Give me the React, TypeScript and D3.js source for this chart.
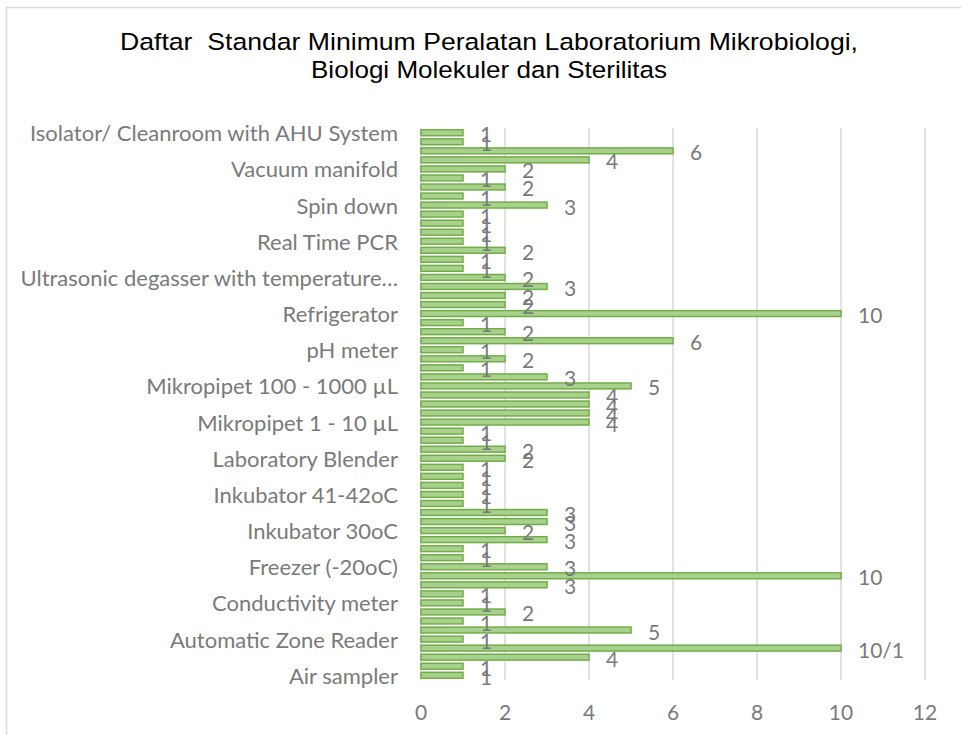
import React from "react";
import * as d3 from "d3";

// categories listed bottom-first, as in the spreadsheet
const categories = [
  "Air sampler",
  "Anaerobic jar",
  "Analytical balance",
  "Autoclave",
  "Automatic Zone Reader",
  "Biosafety Cabinet",
  "Centrifuge",
  "Colony counter",
  "Conductivity meter",
  "Deep freezer",
  "Dispenser",
  "Drying oven",
  "Freezer (-20oC)",
  "Gel documentation",
  "Hot plate stirrer",
  "Inkubator 20-25oC",
  "Inkubator 30oC",
  "Inkubator 35oC",
  "Inkubator 37oC",
  "Inkubator 40oC",
  "Inkubator 41-42oC",
  "Inkubator 44oC",
  "Inkubator CO2",
  "Laboratory balance",
  "Laboratory Blender",
  "Laminar Air Flow",
  "Magnetic stirrer",
  "Microscope",
  "Mikropipet 1 - 10 µL",
  "Mikropipet 10 - 100 µL",
  "Mikropipet 2 - 20 µL",
  "Mikropipet 20 - 200 µL",
  "Mikropipet 100 - 1000 µL",
  "Mikropipet 1000 - 5000 µL",
  "Multichannel pipette",
  "Oven",
  "pH meter",
  "Pipette filler",
  "Pipette washer",
  "Refrigerated centrifuge",
  "Refrigerator",
  "Rotary shaker",
  "Stomacher",
  "Thermometer",
  "Ultrasonic degasser with temperature control",
  "UV sterilizer",
  "Vortex mixer",
  "Water bath",
  "Real Time PCR",
  "PCR Thermal cycler",
  "Gel electrophoresis",
  "Nanodrop spectrophotometer",
  "Spin down",
  "Micro centrifuge",
  "Membrane filtration unit",
  "Vacuum pump",
  "Vacuum manifold",
  "Endotoxin reader",
  "Particle counter",
  "Pass box",
  "Isolator/ Cleanroom with AHU System",
];

const values = [
  1, 1, 4, 10, 1, 5, 1, 2, 1, 1, 3, 10, 3, 1, 1, 3, 2, 3, 3, 1, 1, 1, 1, 1, 2,
  2, 1, 1, 4, 4, 4, 4, 5, 3, 1, 2, 1, 6, 2, 1, 10, 2, 2, 3, 2, 1, 1, 2, 1, 1, 1,
  1, 3, 1, 2, 1, 2, 4, 6, 1, 1,
];

// one label in the source sheet is typed as text instead of the plain value
const labelOverrides: Record<number, string> = { 3: "10/1" };

const xTicks = [0, 2, 4, 6, 8, 10, 12];

const titleLines = [
  "Daftar  Standar Minimum Peralatan Laboratorium Mikrobiologi,",
  "Biologi Molekuler dan Sterilitas",
];

const width = 961;
const height = 735;
const margin = { top: 128, right: 36, bottom: 55, left: 421 };
const textColor = "#7a7a7a";
const font = "Lato, 'Open Sans', sans-serif";

const shorten = (s: string) => (s.length > 36 ? s.slice(0, 36) + "…" : s);

export default function App() {
  const x = d3
    .scaleLinear()
    .domain([0, 12])
    .range([margin.left, margin.left + 504]);

  const y = d3
    .scaleBand<string>()
    .domain([...categories].reverse())
    .range([margin.top, height - margin.bottom])
    .paddingInner(0.35)
    .paddingOuter(0.2);

  const bottom = height - margin.bottom;

  return (
    <svg
      width={width}
      height={height}
      style={{ position: "absolute", left: 0, top: 0, background: "#fff" }}
    >
      <rect
        x={6.5}
        y={7.5}
        width={1000}
        height={1000}
        fill="#fff"
        stroke="#d9d9d9"
        strokeWidth={1.5}
      />

      {titleLines.map((t, i) => (
        <text
          key={i}
          x={489}
          y={49.5 + i * 28}
          textAnchor="middle"
          fontFamily="'Liberation Sans', Arial, sans-serif"
          fontSize={24.5}
          fill="#000"
          textLength={i === 0 ? 738 : 356}
          lengthAdjust="spacingAndGlyphs"
          style={{ whiteSpace: "pre" }}
        >
          {t}
        </text>
      ))}

      {xTicks.map((t) => (
        <g key={t}>
          <line
            x1={x(t)}
            x2={x(t)}
            y1={margin.top}
            y2={bottom}
            stroke="#d9d9d9"
            strokeWidth={1.5}
          />
          <text
            x={x(t)}
            y={711}
            textAnchor="middle"
            dominantBaseline="central"
            fontFamily={font}
            fontSize={21}
            fill={textColor}
          >
            {t}
          </text>
        </g>
      ))}

      {categories.map((c, i) => {
        const v = values[i];
        const yy = y(c)!;
        const cy = yy + y.bandwidth() / 2;
        return (
          <g key={c}>
            <rect
              x={x(0)}
              y={yy}
              width={x(v) - x(0)}
              height={y.bandwidth()}
              fill="#a9d18e"
              stroke="#70ad47"
              strokeWidth={1.5}
            />
            <text
              x={x(v) + 17}
              y={cy + 1}
              dominantBaseline="central"
              fontFamily={font}
              fontSize={21}
              fill={textColor}
            >
              {labelOverrides[i] ?? String(v)}
            </text>
            {i % 4 === 0 && (
              <text
                x={398}
                y={cy}
                textAnchor="end"
                dominantBaseline="central"
                fontFamily={font}
                fontSize={22}
                fill={textColor}
              >
                {shorten(c)}
              </text>
            )}
          </g>
        );
      })}
    </svg>
  );
}
